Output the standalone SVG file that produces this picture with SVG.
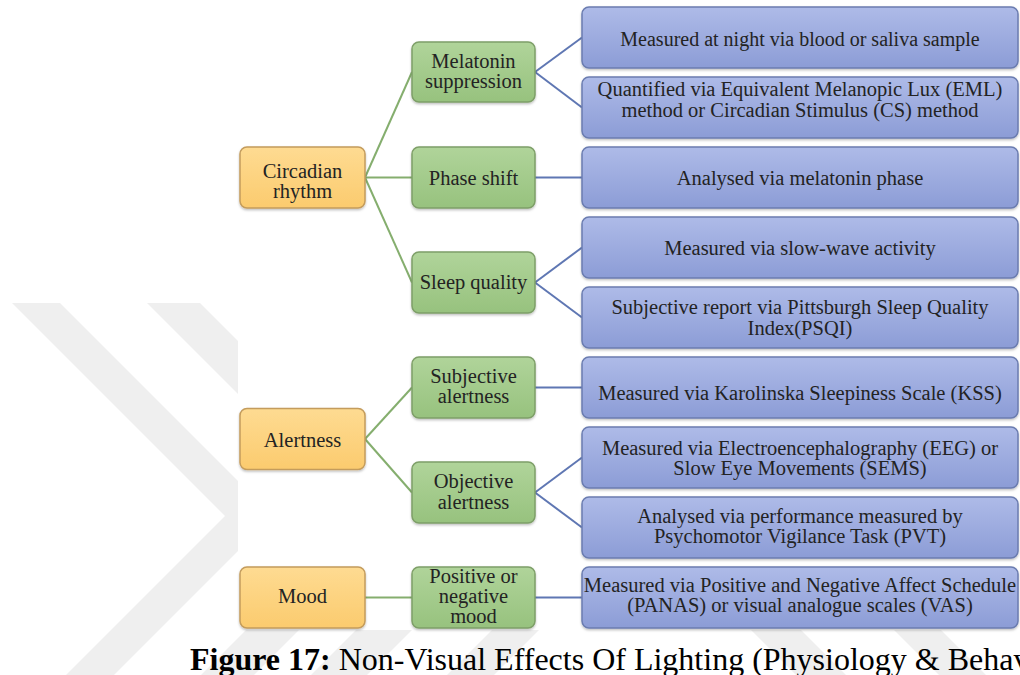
<svg xmlns="http://www.w3.org/2000/svg" width="1020" height="675" viewBox="0 0 1020 675">
  <defs>
    <linearGradient id="gOrange" x1="0" y1="0" x2="0" y2="1">
      <stop offset="0" stop-color="#fedb92"/>
      <stop offset="1" stop-color="#fbcb6e"/>
    </linearGradient>
    <linearGradient id="gGreen" x1="0" y1="0" x2="0" y2="1">
      <stop offset="0" stop-color="#b0d49a"/>
      <stop offset="1" stop-color="#97c27e"/>
    </linearGradient>
    <linearGradient id="gBlue" x1="0" y1="0" x2="0" y2="1">
      <stop offset="0" stop-color="#aebbe8"/>
      <stop offset="1" stop-color="#8c9cd6"/>
    </linearGradient>
    <filter id="shadow" x="-5%" y="-10%" width="110%" height="125%">
      <feDropShadow dx="0" dy="1.5" stdDeviation="1" flood-color="#000" flood-opacity="0.25"/>
    </filter>
  </defs>
  <style>
    .wm { fill: #efefef; }
    .lvl1 rect { fill: url(#gOrange); stroke: #c49c5c; stroke-width: 1.5; filter: url(#shadow); }
    .lvl2 rect { fill: url(#gGreen); stroke: #7e9f68; stroke-width: 1.5; filter: url(#shadow); }
    .lvl3 rect { fill: url(#gBlue); stroke: #6b7cb0; stroke-width: 1.5; filter: url(#shadow); }
    text { font-family: "Liberation Serif", "Times New Roman", serif; font-size: 20.5px; fill: #232323; text-anchor: middle; }
    .caption { text-anchor: start; font-size: 32px; fill: #000; }
    .bold { font-weight: bold; }
    .cg { stroke: #85ae6e; stroke-width: 2; fill: none; }
    .cb { stroke: #5f77b3; stroke-width: 2; fill: none; }
  </style>

  <rect x="0" y="0" width="1020" height="675" fill="#ffffff"/>

  <!-- background chevron watermark -->
  <g id="watermark">
    <polygon class="wm" points="12,303 60,303 273,516 114,675 66,675 225,516"/>
    <polygon class="wm" points="147,303 200,303 413,516 254,675 201,675 360,516"/>
    <polygon class="wm" points="357,629 413,629 367,675 311,675"/>
    <polygon class="wm" points="493,629 540,629 494,675 447,675"/>
    <polygon class="wm" points="750,629 800,629 846,675 796,675"/>
    <polygon class="wm" points="893,629 940,629 986,675 939,675"/>
  </g>

  <!-- diagram panel -->
  <rect x="238" y="0" width="782" height="630" fill="#ffffff"/>

  <!-- connectors -->
  <g id="connectors">
    <line class="cg" x1="365" y1="177.5" x2="412" y2="72"/>
    <line class="cg" x1="365" y1="177.5" x2="412" y2="177.5"/>
    <line class="cg" x1="365" y1="177.5" x2="412" y2="282.5"/>
    <line class="cg" x1="365" y1="439" x2="412" y2="387.5"/>
    <line class="cg" x1="365" y1="439" x2="412" y2="492.5"/>
    <line class="cg" x1="365" y1="597.5" x2="412" y2="597.5"/>

    <line class="cb" x1="535" y1="72" x2="582" y2="37.5"/>
    <line class="cb" x1="535" y1="72" x2="582" y2="107.5"/>
    <line class="cb" x1="535" y1="177.5" x2="582" y2="177.5"/>
    <line class="cb" x1="535" y1="282.5" x2="582" y2="247.5"/>
    <line class="cb" x1="535" y1="282.5" x2="582" y2="317.5"/>
    <line class="cb" x1="535" y1="387.5" x2="582" y2="387.5"/>
    <line class="cb" x1="535" y1="492.5" x2="582" y2="457.5"/>
    <line class="cb" x1="535" y1="492.5" x2="582" y2="527.5"/>
    <line class="cb" x1="535" y1="597.5" x2="582" y2="597.5"/>
  </g>

  <!-- level 1 -->
  <g id="circadian-rhythm" class="lvl1">
    <rect x="240" y="147" width="125" height="61" rx="7"/>
    <text x="302.5" y="178">Circadian</text>
    <text x="302.5" y="198">rhythm</text>
  </g>
  <g id="alertness" class="lvl1">
    <rect x="240" y="408.5" width="125" height="61" rx="7"/>
    <text x="302.5" y="447">Alertness</text>
  </g>
  <g id="mood" class="lvl1">
    <rect x="240" y="567" width="125" height="61" rx="7"/>
    <text x="302.5" y="603">Mood</text>
  </g>

  <!-- level 2 -->
  <g id="melatonin-suppression" class="lvl2">
    <rect x="412" y="42" width="123" height="60" rx="7"/>
    <text x="473.5" y="68">Melatonin</text>
    <text x="473.5" y="88">suppression</text>
  </g>
  <g id="phase-shift" class="lvl2">
    <rect x="412" y="147" width="123" height="61" rx="7"/>
    <text x="473.5" y="185">Phase shift</text>
  </g>
  <g id="sleep-quality" class="lvl2">
    <rect x="412" y="252" width="123" height="61" rx="7"/>
    <text x="473.5" y="289">Sleep quality</text>
  </g>
  <g id="subjective-alertness" class="lvl2">
    <rect x="412" y="357" width="123" height="61" rx="7"/>
    <text x="473.5" y="383">Subjective</text>
    <text x="473.5" y="403">alertness</text>
  </g>
  <g id="objective-alertness" class="lvl2">
    <rect x="412" y="462" width="123" height="61" rx="7"/>
    <text x="473.5" y="488">Objective</text>
    <text x="473.5" y="509">alertness</text>
  </g>
  <g id="positive-negative-mood" class="lvl2">
    <rect x="412" y="567" width="123" height="61" rx="7"/>
    <text x="473.5" y="583">Positive or</text>
    <text x="473.5" y="603">negative</text>
    <text x="473.5" y="623">mood</text>
  </g>

  <!-- level 3 -->
  <g id="m-night-sample" class="lvl3">
    <rect x="582" y="7" width="436" height="61" rx="7"/>
    <text x="800" y="45.5" style="font-size:20px">Measured at night via blood or saliva sample</text>
  </g>
  <g id="m-eml-cs" class="lvl3">
    <rect x="582" y="77" width="436" height="61" rx="7"/>
    <text x="800" y="96">Quantified via Equivalent Melanopic Lux (EML)</text>
    <text x="800" y="117">method or Circadian Stimulus (CS) method</text>
  </g>
  <g id="m-melatonin-phase" class="lvl3">
    <rect x="582" y="147" width="436" height="61" rx="7"/>
    <text x="800" y="185">Analysed via melatonin phase</text>
  </g>
  <g id="m-slow-wave" class="lvl3">
    <rect x="582" y="217" width="436" height="61" rx="7"/>
    <text x="800" y="255">Measured via slow-wave activity</text>
  </g>
  <g id="m-psqi" class="lvl3">
    <rect x="582" y="287" width="436" height="61" rx="7"/>
    <text x="800" y="314">Subjective report via Pittsburgh Sleep Quality</text>
    <text x="800" y="335">Index(PSQI)</text>
  </g>
  <g id="m-kss" class="lvl3">
    <rect x="582" y="357" width="436" height="61" rx="7"/>
    <text x="800" y="400">Measured via Karolinska Sleepiness Scale (KSS)</text>
  </g>
  <g id="m-eeg-sems" class="lvl3">
    <rect x="582" y="427" width="436" height="61" rx="7"/>
    <text x="800" y="455">Measured via Electroencephalography (EEG) or</text>
    <text x="800" y="475">Slow Eye Movements (SEMS)</text>
  </g>
  <g id="m-pvt" class="lvl3">
    <rect x="582" y="497" width="436" height="61" rx="7"/>
    <text x="800" y="523">Analysed via performance measured by</text>
    <text x="800" y="543">Psychomotor Vigilance Task (PVT)</text>
  </g>
  <g id="m-panas-vas" class="lvl3">
    <rect x="582" y="567" width="436" height="61" rx="7"/>
    <text x="800" y="592">Measured via Positive and Negative Affect Schedule</text>
    <text x="800" y="612">(PANAS) or visual analogue scales (VAS)</text>
  </g>

  <!-- caption -->
  <text class="caption" x="190" y="670"><tspan class="bold">Figure 17:</tspan> Non-Visual Effects Of Lighting (Physiology &amp; Behav</text>
</svg>
